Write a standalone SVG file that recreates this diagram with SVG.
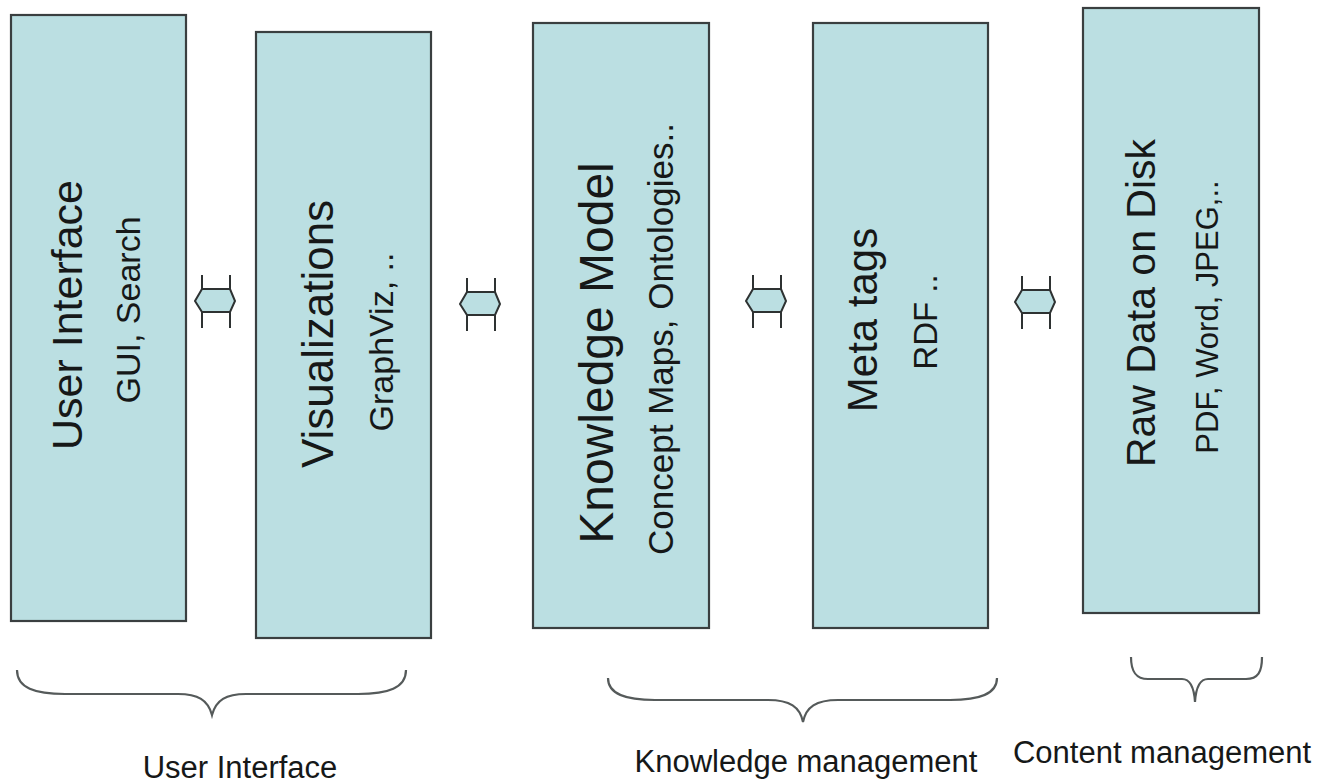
<svg xmlns="http://www.w3.org/2000/svg" width="1326" height="784" viewBox="0 0 1326 784">
<style>
.box{fill:#bbdfe2;stroke:#3a3f40;stroke-width:2.2}
.t{font-family:"Liberation Sans",Arial,sans-serif;fill:#161818;text-anchor:middle}
.brace{fill:none;stroke:#555a5a;stroke-width:2.2}
.stem{stroke:#2e3232;stroke-width:2;fill:none}
.hex{fill:#bbdfe2;stroke:#2e3232;stroke-width:2}
</style>
<rect width="1326" height="784" fill="#ffffff"/>
<g id="node-user-interface">
<rect class="box" x="11" y="15" width="175" height="606"/>
<text class="t" font-size="43" transform="translate(82,315) rotate(-90)">User Interface</text>
<text class="t" font-size="34" transform="translate(140,310) rotate(-90)">GUI, Search</text>
</g>
<g id="node-visualizations">
<rect class="box" x="256" y="32" width="175" height="606"/>
<text class="t" font-size="44" transform="translate(333,334) rotate(-90)">Visualizations</text>
<text class="t" font-size="34" transform="translate(393,342) rotate(-90)">GraphViz, ..</text>
</g>
<g id="node-knowledge-model">
<rect class="box" x="533" y="23" width="176" height="605"/>
<text class="t" font-size="48" transform="translate(613,353) rotate(-90)">Knowledge Model</text>
<text class="t" font-size="35" transform="translate(673,339) rotate(-90)">Concept Maps, Ontologies..</text>
</g>
<g id="node-meta-tags">
<rect class="box" x="813" y="23" width="175" height="605"/>
<text class="t" font-size="42" transform="translate(877,320) rotate(-90)">Meta tags</text>
<text class="t" font-size="33" transform="translate(937,322) rotate(-90)">RDF ..</text>
</g>
<g id="node-raw-data">
<rect class="box" x="1083" y="8" width="176" height="605"/>
<text class="t" font-size="41" transform="translate(1155,303) rotate(-90)">Raw Data on Disk</text>
<text class="t" font-size="31" transform="translate(1218,317) rotate(-90)">PDF, Word, JPEG,..</text>
</g>
<g id="connectors">
<g transform="translate(216,0)">
<path class="hex" d="M-14,289 L14,289 L19,301 L14,312 L-14,312 L-21,301 Z"/>
<path class="stem" d="M-14,275 V289 M14,275 V289 M-14,312 V328 M14,312 V328"/>
</g>
<g transform="translate(481,3)">
<path class="hex" d="M-14,289 L14,289 L19,301 L14,312 L-14,312 L-21,301 Z"/>
<path class="stem" d="M-14,275 V289 M14,275 V289 M-14,312 V328 M14,312 V328"/>
</g>
<g transform="translate(767,0)">
<path class="hex" d="M-14,289 L14,289 L19,301 L14,312 L-14,312 L-21,301 Z"/>
<path class="stem" d="M-14,275 V289 M14,275 V289 M-14,312 V328 M14,312 V328"/>
</g>
<g transform="translate(1036,1)">
<path class="hex" d="M-14,289 L14,289 L19,301 L14,312 L-14,312 L-21,301 Z"/>
<path class="stem" d="M-14,275 V289 M14,275 V289 M-14,312 V328 M14,312 V328"/>
</g>
</g>
<g id="group-user-interface">
<path class="brace" d="M17,670 C17,688 35,694 65,694 L178,694 C198,694 208,700 212,715 C216,700 226,694 246,694 L358,694 C388,694 406,688 406,670"/>
<text class="t" font-size="31" x="240" y="778">User Interface</text>
</g>
<g id="group-knowledge-management">
<path class="brace" d="M608,678 C608,694 625,700 655,700 L768,700 C790,700 800,707 803,722 C806,707 816,700 838,700 L950,700 C980,700 997,694 997,678"/>
<text class="t" font-size="31" x="806" y="772">Knowledge management</text>
</g>
<g id="group-content-management">
<path class="brace" d="M1131,657 C1131,672 1136,679 1148,679 L1182,679 C1190,679 1194,686 1195,702 C1196,686 1200,679 1208,679 L1246,679 C1258,679 1262,672 1262,657"/>
<text class="t" font-size="31" x="1162" y="763">Content management</text>
</g>
</svg>
